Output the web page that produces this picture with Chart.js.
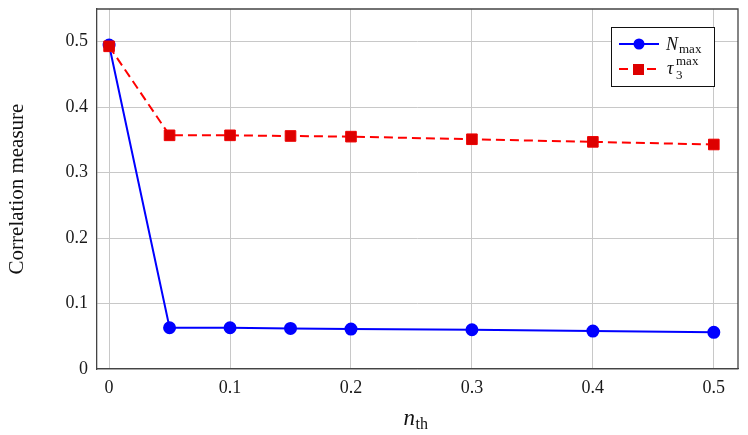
<!DOCTYPE html>
<html>
<head>
<meta charset="utf-8">
<script src="https://cdn.jsdelivr.net/npm/chart.js@4"></script>
<style>
  html, body { margin: 0; padding: 0; background: #fff; }
  #wrap { width: 748px; height: 435px; }
</style>
</head>
<body>
<div id="wrap"><canvas id="chart" width="748" height="435"></canvas></div>
<script>
// data
const thresholds = [0, 0.05, 0.1, 0.15, 0.2, 0.3, 0.4, 0.5];
const nMax = [0.495, 0.063, 0.063, 0.062, 0.061, 0.060, 0.058, 0.056];
const tau3Max = [0.493, 0.357, 0.357, 0.356, 0.355, 0.351, 0.347, 0.343];
const xTicks = [0, 0.1, 0.2, 0.3, 0.4, 0.5];
const yTicks = [0, 0.1, 0.2, 0.3, 0.4, 0.5];

const SERIF = '"Liberation Serif", "DejaVu Serif", serif';

// frame, legend + axis titles with sub/superscripts
const annotations = {
    id: 'annotations',
    afterDraw(chart) {
        const ctx = chart.ctx;
        const area = chart.chartArea;
        ctx.save();

        // top and right frame lines
        ctx.strokeStyle = '#444';
        ctx.lineWidth = 1.3;
        ctx.beginPath();
        ctx.moveTo(area.left, area.top);
        ctx.lineTo(area.right, area.top);
        ctx.lineTo(area.right, area.bottom);
        ctx.stroke();

        // y title
        ctx.fillStyle = '#111';
        ctx.font = '21px ' + SERIF;
        ctx.textAlign = 'center';
        ctx.textBaseline = 'middle';
        ctx.translate(17, (area.top + area.bottom) / 2);
        ctx.rotate(-Math.PI / 2);
        ctx.fillText('Correlation measure', 0, 0);
        ctx.setTransform(1, 0, 0, 1, 0, 0);

        // x title n_th
        const cx = (area.left + area.right) / 2;
        ctx.textAlign = 'left';
        ctx.textBaseline = 'alphabetic';
        ctx.font = 'italic 23px ' + SERIF;
        ctx.fillText('n', cx - 14, 425);
        ctx.font = '16px ' + SERIF;
        ctx.fillText('th', cx - 2, 429);

        // legend box
        const bx = 611, by = 27, bw = 103, bh = 59;
        ctx.fillStyle = '#fff';
        ctx.fillRect(bx, by, bw, bh);
        ctx.strokeStyle = '#111';
        ctx.lineWidth = 1;
        ctx.strokeRect(bx + 0.5, by + 0.5, bw, bh);

        // entry 1
        let y = 44;
        ctx.strokeStyle = '#0000ff';
        ctx.lineWidth = 2;
        ctx.beginPath();
        ctx.moveTo(619, y); ctx.lineTo(659, y);
        ctx.stroke();
        ctx.fillStyle = '#0000ff';
        ctx.beginPath();
        ctx.arc(639, y, 5.5, 0, Math.PI * 2);
        ctx.fill();
        ctx.fillStyle = '#111';
        ctx.font = 'italic 18px ' + SERIF;
        ctx.fillText('N', 666, y + 6);
        ctx.font = '13px ' + SERIF;
        ctx.fillText('max', 679, y + 9);

        // entry 2
        y = 69;
        ctx.strokeStyle = '#ff0000';
        ctx.setLineDash([9, 5]);
        ctx.beginPath();
        ctx.moveTo(619, y); ctx.lineTo(657, y);
        ctx.stroke();
        ctx.setLineDash([]);
        ctx.fillStyle = '#dd0000';
        ctx.fillRect(633, y - 5, 11, 11);
        ctx.fillStyle = '#111';
        ctx.font = 'italic 18px ' + SERIF;
        ctx.fillText('\u03C4', 667, y + 5);
        ctx.font = '13px ' + SERIF;
        ctx.fillText('3', 676, y + 10);
        ctx.fillText('max', 676, y - 4);

        ctx.restore();
    }
};

new Chart(document.getElementById('chart').getContext('2d'), {
    type: 'line',
    data: {
        datasets: [
            {
                label: 'N_max',
                data: thresholds.map((x, i) => ({ x, y: nMax[i] })),
                borderColor: '#0000ff',
                backgroundColor: '#0000ff',
                borderWidth: 2,
                pointRadius: 5.5,
                pointStyle: 'circle',
                tension: 0,
                order: 1
            },
            {
                label: 'tau_3^max',
                data: thresholds.map((x, i) => ({ x, y: tau3Max[i] })),
                borderColor: '#ff0000',
                backgroundColor: '#dd0000',
                borderWidth: 2,
                borderDash: [9, 5],
                pointRadius: 7.5,
                pointBorderWidth: 1,
                pointBorderColor: '#ee0000',
                pointStyle: 'rect',
                tension: 0,
                order: 0
            }
        ]
    },
    options: {
        responsive: false,
        animation: false,
        events: [],
        layout: { padding: { left: 0, top: 9, right: 10, bottom: 0 } },
        plugins: {
            legend: { display: false },
            tooltip: { enabled: false }
        },
        scales: {
            x: {
                type: 'linear',
                min: -0.01,
                max: 0.52,
                afterBuildTicks: (s) => { s.ticks = xTicks.map(v => ({ value: v })); },
                afterFit: (s) => { s.height = 66; s.paddingLeft = 0; s.paddingRight = 0; },
                grid: { color: '#c8c8c8', lineWidth: 1, drawTicks: false },
                border: { color: '#444', width: 1.3 },
                ticks: {
                    color: '#1a1a1a',
                    padding: 8,
                    maxRotation: 0,
                    font: { family: SERIF, size: 18 },
                    callback: (v) => String(Math.round(v * 10) / 10)
                }
            },
            y: {
                type: 'linear',
                min: 0,
                max: 0.55,
                afterBuildTicks: (s) => { s.ticks = yTicks.map(v => ({ value: v })); },
                afterFit: (s) => { s.width = 97; s.paddingTop = 0; s.paddingBottom = 0; },
                grid: { color: '#c8c8c8', lineWidth: 1, drawTicks: false },
                border: { color: '#444', width: 1.3 },
                ticks: {
                    color: '#1a1a1a',
                    padding: 9,
                    font: { family: SERIF, size: 18 },
                    callback: (v) => String(Math.round(v * 10) / 10)
                }
            }
        }
    },
    plugins: [annotations]
});
</script>
</body>
</html>
